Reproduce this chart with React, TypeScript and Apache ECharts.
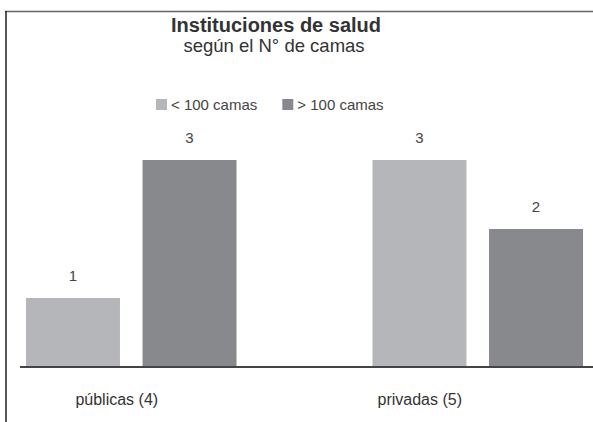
import React, { useEffect, useRef } from "react";
import * as echarts from "echarts";

const categories = ["públicas (4)", "privadas (5)"];
const seriesNames = ["< 100 camas", "> 100 camas"];
const menos100 = [1, 3];
const mas100 = [3, 2];
const titleText = "Instituciones de salud";
const subtitleText = "según el N° de camas";

const FONT = "'Liberation Sans', Arial, sans-serif";

export default function App() {
  const ref = useRef<HTMLDivElement>(null);
  useEffect(() => {
    if (!ref.current) return;
    const chart = echarts.init(ref.current, null, { renderer: "svg" });
    const labelStyle = {
      show: true,
      position: "top",
      distance: 15,
      fontSize: 15,
      color: "#444",
      fontFamily: FONT,
    };
    chart.setOption({
      animation: false,
      backgroundColor: "#fff",
      textStyle: { fontFamily: FONT },
      title: [
        {
          text: titleText,
          left: 276,
          textAlign: "center",
          top: 15,
          padding: 0,
          textStyle: { fontSize: 20, fontWeight: "bold", color: "#333", fontFamily: FONT },
        },
        {
          text: subtitleText,
          left: 274,
          textAlign: "center",
          top: 35.5,
          padding: 0,
          textStyle: { fontSize: 18.5, fontWeight: "normal", color: "#333", fontFamily: FONT },
        },
      ],
      legend: {
        data: seriesNames,
        left: 156,
        top: 97,
        padding: 0,
        itemWidth: 11,
        itemHeight: 11,
        itemGap: 25,
        icon: "rect",
        textStyle: { fontSize: 15, color: "#444", fontFamily: FONT, padding: [0, 0, 0, -1] },
      },
      grid: { left: -42, width: 693, top: 91, bottom: 55, containLabel: false, outerBoundsMode: "none" },
      xAxis: {
        type: "category",
        data: categories,
        axisLine: { show: false },
        axisTick: { show: false },
        axisLabel: {
          margin: 24,
          fontSize: 16,
          color: "#333",
          fontFamily: FONT,
          formatter: (v: string, i: number) => (i === 0 ? `{a|${v}}` : `{b|${v}}`),
          rich: {
            a: { fontSize: 16, color: "#333", fontFamily: FONT, padding: [0, 29, 0, 0] },
            b: { fontSize: 16, color: "#333", fontFamily: FONT, padding: [0, 116, 0, 0] },
          },
        },
      },
      yAxis: { type: "value", min: 0, max: 4, show: false, splitLine: { show: false } },
      series: [
        {
          name: seriesNames[0],
          type: "bar",
          data: menos100,
          barWidth: 94,
          barGap: "24%",
          itemStyle: { color: "#b5b6b9" },
          label: labelStyle,
        },
        {
          name: seriesNames[1],
          type: "bar",
          data: mas100,
          barWidth: 94,
          barGap: "24%",
          itemStyle: { color: "#88898d" },
          label: labelStyle,
        },
      ],
      graphic: [
        { type: "line", shape: { x1: 5, y1: 11.5, x2: 593, y2: 11.5 }, style: { stroke: "#666", lineWidth: 1.5 }, silent: true },
        { type: "line", shape: { x1: 6, y1: 11, x2: 6, y2: 422 }, style: { stroke: "#222", lineWidth: 1.5 }, silent: true },
        { type: "line", shape: { x1: 20, y1: 367, x2: 593, y2: 367 }, style: { stroke: "#444", lineWidth: 2 }, silent: true, z: 100 },
      ],
    });
    return () => chart.dispose();
  }, []);
  return (
    <div
      ref={ref}
      style={{ position: "fixed", left: 0, top: 0, width: 593, height: 422, background: "#fff" }}
    />
  );
}
